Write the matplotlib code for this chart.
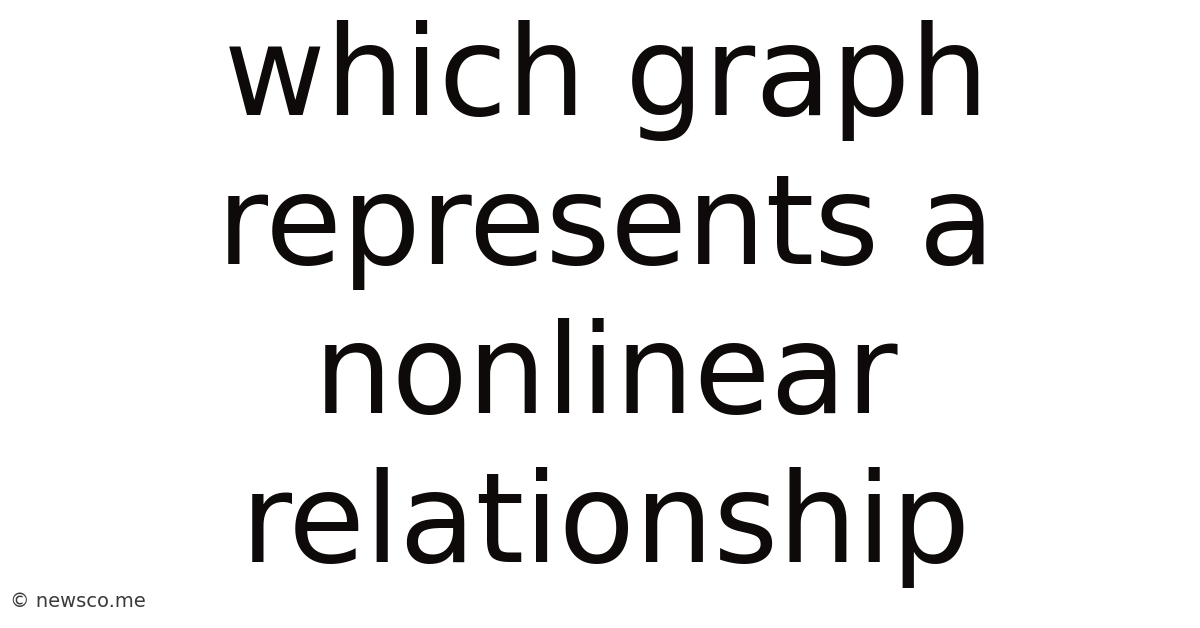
import matplotlib.pyplot as plt

# title lines, top to bottom
lines = ["which graph", "represents a", "nonlinear", "relationship"]
baselines = [115, 264, 413, 562]  # pixel rows from the top
credit = "© newsco.me"

W, H = 1200, 628
fig = plt.figure(figsize=(W / 100, H / 100), dpi=100)
fig.patch.set_facecolor("white")

for txt, yb in zip(lines, baselines):
    fig.text(606 / W, 1 - yb / H, txt, ha="center", va="baseline",
             fontsize=89.5, color="#0f0a0a", family="DejaVu Sans")

fig.text(10 / W, 1 - 607 / H, credit, ha="left", va="baseline",
         fontsize=14, color="#3a3a3a", family="DejaVu Sans")

fig.savefig("out.png", dpi=100, facecolor="white")
